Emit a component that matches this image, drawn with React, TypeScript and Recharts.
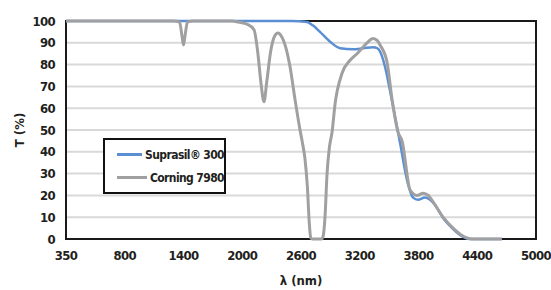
import { CartesianGrid, Line, LineChart, ReferenceArea, XAxis, YAxis } from "recharts";

// wavelength (nm) / transmission (%)
const suprasilNm = [200, 2500, 2662, 2720, 2794, 2897, 2999, 3132, 3234, 3336, 3380, 3407, 3458, 3509, 3561, 3612, 3683, 3745, 3795, 3867, 3969, 4051, 4153, 4255, 4320, 4650];
const suprasilT = [100, 100, 99.5, 98, 95, 90.5, 87.5, 87, 87.5, 88, 87.5, 86, 79, 68, 56, 44, 27, 19, 18, 19, 15.6, 9.6, 4.6, 1, 0, 0];

const corningNm = [200, 1300, 1360, 1385, 1400, 1415, 1440, 1500, 1900, 1960, 2050, 2120, 2160, 2190, 2222, 2250, 2290, 2330, 2365, 2400, 2450, 2488, 2539, 2590, 2615, 2640, 2665, 2685, 2700, 2715, 2810, 2825, 2845, 2866, 2890, 2917, 2948, 3019, 3101, 3172, 3275, 3336, 3380, 3407, 3479, 3530, 3591, 3632, 3714, 3785, 3847, 3900, 3949, 4051, 4153, 4250, 4296, 4350, 4650];
const corningT = [100, 100, 99.5, 93, 89, 93, 99.5, 100, 100, 99.5, 98.5, 96, 85, 72, 63, 72, 86, 93, 94.5, 93, 87, 79, 64, 50, 44, 37, 24, 7, 0.5, 0, 0, 1, 10, 30, 42, 49, 62, 76, 82, 85, 90, 92, 91, 89, 81, 64, 49, 45, 22.5, 20, 21, 20, 17, 10, 5, 1.5, 0.5, 0, 0];

const xTicks = [200, 800, 1400, 2000, 2600, 3200, 3800, 4400, 5000];
const xTickLabels = ["350", "800", "1400", "2000", "2600", "3200", "3800", "4400", "5000"];
const yTicks = [0, 10, 20, 30, 40, 50, 60, 70, 80, 90, 100];

const seriesNames = ["Suprasil® 300", "Corning 7980"];
const seriesColors = ["#5b8fd4", "#a0a0a0"];

const suprasil = suprasilNm.map((x, i) => ({ x, t: suprasilT[i] }));
const corning = corningNm.map((x, i) => ({ x, t: corningT[i] }));

const FONT = '"DejaVu Sans Condensed", "DejaVu Sans", sans-serif';
const INK = "#231f20";
const tickStyle = { fontSize: 13, fontWeight: 700, fill: INK, fontFamily: FONT, letterSpacing: -0.6 };

function LegendBox() {
  return (
    <div
      style={{
        position: "absolute",
        left: 103,
        top: 138,
        width: 119,
        height: 52,
        border: "2px solid #111",
        background: "#fff",
        fontFamily: FONT,
        fontWeight: 700,
        fontSize: 12,
        letterSpacing: -0.6,
        color: INK,
        whiteSpace: "nowrap",
      }}
    >
      {seriesNames.map((name, i) => (
        <div key={name} style={{ display: "flex", alignItems: "center", height: 23, marginTop: i === 0 ? 3 : 0 }}>
          <span style={{ display: "inline-block", marginLeft: 12, width: 33, height: 3, background: seriesColors[i] }} />
          <span style={{ marginLeft: 3 }}>{name}</span>
        </div>
      ))}
    </div>
  );
}

export default function App() {
  return (
    <div style={{ position: "absolute", left: 0, top: 0, width: 551, height: 290 }}>
      <LineChart width={551} height={290} margin={{ top: 21, right: 15, bottom: 0, left: 0 }}>
        <CartesianGrid vertical={false} stroke="#d9d9d9" strokeWidth={2} />
        <XAxis
          dataKey="x"
          type="number"
          domain={[200, 5000]}
          ticks={xTicks}
          tickFormatter={(v) => xTickLabels[xTicks.indexOf(v)]}
          axisLine={false}
          tickLine={false}
          tickMargin={6}
          height={51}
          tick={tickStyle}
          interval={0}
          label={{
            content: () => (
              <text x={301} y={285} textAnchor="middle" fontSize={13} fontWeight={700} fill={INK} fontFamily={FONT}>
                λ (nm)
              </text>
            ),
          }}
        />
        <YAxis
          type="number"
          domain={[0, 100]}
          ticks={yTicks}
          width={66}
          axisLine={false}
          tickLine={false}
          tickMargin={5}
          interval={0}
          tick={tickStyle}
          label={{
            content: () => (
              <text
                x={24}
                y={130}
                transform="rotate(-90 24 130)"
                textAnchor="middle"
                fontSize={13}
                fontWeight={700}
                fill={INK}
                fontFamily={FONT}
              >
                T (%)
              </text>
            ),
          }}
        />
        <Line
          data={suprasil}
          dataKey="t"
          name={seriesNames[0]}
          type="monotone"
          stroke={seriesColors[0]}
          strokeWidth={2.5}
          dot={false}
          isAnimationActive={false}
        />
        <Line
          data={corning}
          dataKey="t"
          name={seriesNames[1]}
          type="monotone"
          stroke={seriesColors[1]}
          strokeWidth={3}
          dot={false}
          isAnimationActive={false}
        />
        <ReferenceArea x1={200} x2={5000} y1={0} y2={100} fill="none" stroke="#1a1a1a" strokeWidth={2} />
      </LineChart>
      <LegendBox />
    </div>
  );
}
